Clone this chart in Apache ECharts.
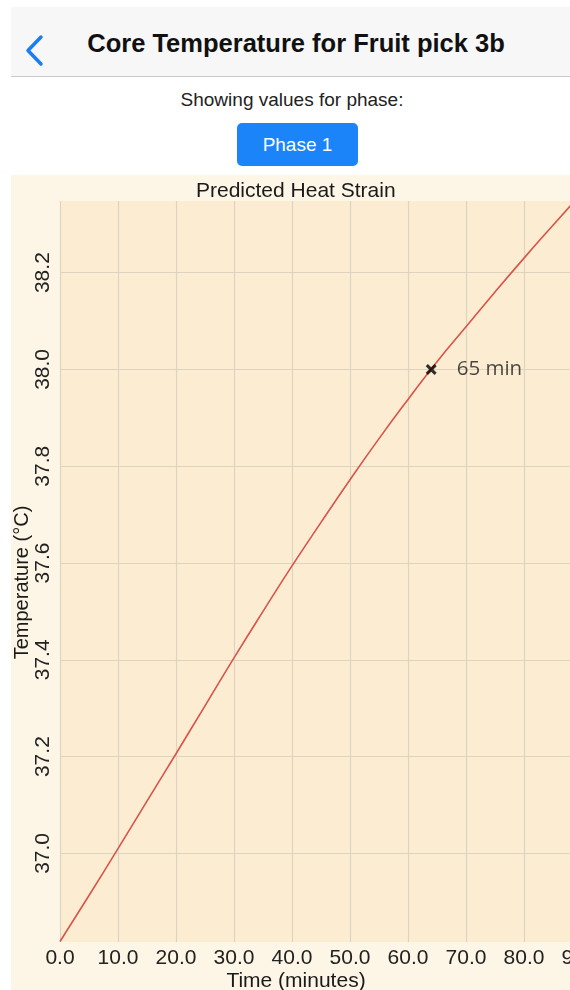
<!DOCTYPE html>
<html>
<head>
<meta charset="utf-8">
<script src="https://cdn.jsdelivr.net/npm/echarts@6/dist/echarts.min.js"></script>
<style>
  html, body { margin: 0; padding: 0; width: 570px; height: 990px; background: #ffffff; overflow: hidden; font-family: "Liberation Sans", Arial, sans-serif; }
  #header { position: absolute; left: 11px; top: 7px; width: 559px; height: 69px; background: #f7f7f7; border-bottom: 1px solid #c9c9c9; }
  #back { position: absolute; left: 14px; top: 22px; }
  #htitle { position: absolute; left: 0; width: 570px; top: 29px; text-align: center; font-size: 25.5px; font-weight: bold; color: #111; padding-left: 22px; box-sizing: border-box; }
  #showing { position: absolute; left: 0; width: 570px; top: 89px; text-align: center; font-size: 19px; color: #222; padding-left: 14px; box-sizing: border-box; }
  #btn { position: absolute; left: 237px; top: 123px; width: 121px; height: 43px; background: #1a84f8; border-radius: 5px; color: #fff; font-size: 19px; line-height: 43px; text-align: center; }
  #chart { position: absolute; left: 11px; top: 175px; width: 559px; height: 815px; background: #fdf5e6; }
</style>
</head>
<body>
<div id="header">
  <svg id="back" width="30" height="40"><polyline points="16,8 3,21.5 16,35" fill="none" stroke="#1a7df5" stroke-width="3.5" stroke-linecap="round" stroke-linejoin="round"/></svg>
</div>
<div id="htitle">Core Temperature for Fruit pick 3b</div>
<div id="showing">Showing values for phase:</div>
<div id="btn">Phase 1</div>
<div id="chart"></div>
<script>
// ---- data ----
const timeMinutes = [0, 5, 10, 15, 20, 25, 30, 35, 40, 45, 50, 55, 60, 65, 70, 75, 80, 85, 90];
const coreTemp = [36.818, 36.913, 37.010, 37.108, 37.206, 37.305, 37.404, 37.500, 37.594, 37.684, 37.772, 37.857, 37.938, 38.016, 38.088, 38.160, 38.230, 38.298, 38.365];
const xTicks = [0, 10, 20, 30, 40, 50, 60, 70, 80, 90];
const yTicks = [37.0, 37.2, 37.4, 37.6, 37.8, 38.0, 38.2];
const markerPoint = [64, 38.0];
const markerLabel = '65 min';
const chartTitle = 'Predicted Heat Strain';
const xName = 'Time (minutes)';
const yName = 'Temperature (°C)';

const chart = echarts.init(document.getElementById('chart'), null, { renderer: 'canvas' });
const lineData = timeMinutes.map((t, i) => [t, coreTemp[i]]);
const cross = 'path://M2,0 L5,3 L8,0 L10,2 L7,5 L10,8 L8,10 L5,7 L2,10 L0,8 L3,5 L0,2 Z';

chart.setOption({
  animation: false,
  backgroundColor: '#fdf5e6',
  textStyle: { fontFamily: 'Liberation Sans, Arial, sans-serif' },
  graphic: [{
    type: 'text', left: 285 - 100, top: 6,
    style: { text: chartTitle, x: 0, y: 0, fill: '#1a1a1a', font: '21px "Liberation Sans", Arial, sans-serif', width: 200, align: 'center' }
  }],
  grid: { left: 49, top: 26, width: 522, height: 741, show: true, backgroundColor: '#fcedd2', borderWidth: 0, outerBoundsMode: 'none', containLabel: false },
  xAxis: {
    type: 'value', min: 0, max: 90,
    name: xName, nameLocation: 'middle', nameGap: 29, nameMoveOverlap: false,
    nameTextStyle: { fontSize: 21, color: '#1a1a1a', padding: [0, 50, 0, 0] },
    axisLine: { show: false }, axisTick: { show: false, customValues: xTicks },
    axisLabel: { customValues: xTicks, fontSize: 21, color: '#222', margin: 6, formatter: v => v.toFixed(1) },
    splitLine: { show: true, lineStyle: { color: '#dcd3c0', width: 1.2 } }
  },
  yAxis: {
    type: 'value', min: 36.817, max: 38.348,
    name: yName, nameLocation: 'middle', nameGap: 28, nameRotate: 90, nameMoveOverlap: false,
    nameTextStyle: { fontSize: 20, color: '#1a1a1a', padding: [0, 22, 0, 0] },
    axisLine: { show: false }, axisTick: { show: false, customValues: yTicks },
    axisLabel: { customValues: yTicks, fontSize: 21, color: '#222', margin: 6, rotate: 90, formatter: v => v.toFixed(1) },
    splitLine: { show: true, lineStyle: { color: '#dcd3c0', width: 1.2 } }
  },
  series: [{
    type: 'line', data: lineData, smooth: true, showSymbol: false, clip: true,
    lineStyle: { color: '#d9534a', width: 1.6 }, itemStyle: { color: '#d9534a' }, z: 2
  }, {
    type: 'scatter', data: [markerPoint], symbol: cross, symbolSize: 11,
    itemStyle: { color: '#000' }, z: 3,
    label: { show: true, position: 'right', distance: 20, formatter: markerLabel, fontSize: 20.5, color: '#1a1a1a', fontFamily: 'Open Sans' }
  }]
});
</script>
</body>
</html>
